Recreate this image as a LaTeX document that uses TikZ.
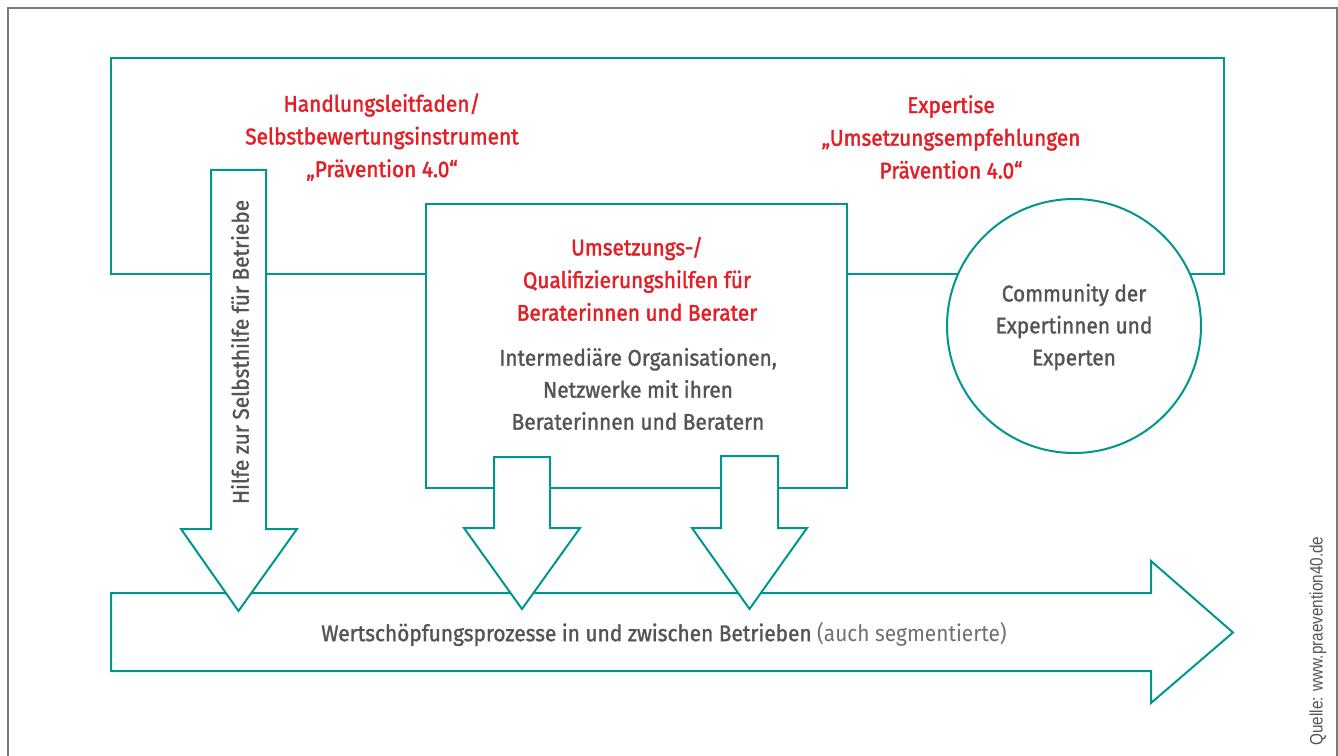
\documentclass[tikz,border=0pt]{standalone}
\usepackage{fontspec}
\setmainfont{Fira Sans}[FakeStretch=0.92]
\newfontfamily\redfont{Fira Sans}[FakeStretch=0.92,FakeBold=1.7]
\newfontfamily\grayfont{Fira Sans}[FakeStretch=0.92,FakeBold=1.3]
\newfontfamily\lightfont{Fira Sans}[FakeStretch=0.92]
\newfontfamily\quellefont{Liberation Sans}[FakeStretch=0.85]
\definecolor{petrol}{RGB}{0,150,144}
\definecolor{signalred}{RGB}{227,30,36}
\definecolor{darkgraytext}{RGB}{84,84,86}
\definecolor{lightgraytext}{RGB}{112,112,114}
\definecolor{framegray}{RGB}{122,122,122}
\begin{document}
\begin{tikzpicture}[x=0.75pt,y=-0.75pt,
  outline/.style={draw=petrol,line width=1.5pt,line join=miter},
  filled/.style={outline,fill=white},
  redlabel/.style={inner sep=0pt,align=center,text=signalred,font=\redfont\fontsize{17}{24.5}\selectfont},
  graylabel/.style={inner sep=0pt,align=center,text=darkgraytext,font=\grayfont\fontsize{17}{24}\selectfont}]
\useasboundingbox (0,0) rectangle (1338,756);

% outer frame, open at the bottom
\draw[framegray,line width=1.1pt] (8,756) -- (8,8) -- (1337,8) -- (1337,756);

% upper frame connecting the instruments
\draw[outline] (111,58) rectangle (1224,274);

% value-chain arrow along the bottom
\draw[filled] (111,593) -- (1151,593) -- (1151,561) -- (1233,632.5)
  -- (1151,703) -- (1151,671) -- (111,671) -- cycle;

% intermediaries box
\draw[filled] (426,204) rectangle (847,488);

% community circle
\draw[filled] (1074,326) circle[radius=95.25pt];

% self-help arrow
\draw[filled] (211,170) -- (266,170) -- (266,529) -- (297,529) -- (238.5,611)
  -- (181,529) -- (211,529) -- cycle;

% arrows from the intermediaries to the companies
\draw[filled] (494,457) -- (550,457) -- (550,528) -- (580,528) -- (522,609)
  -- (464,528) -- (494,528) -- cycle;
\draw[filled] (721,456) -- (778,456) -- (778,528) -- (807,528) -- (749.5,609)
  -- (692,528) -- (721,528) -- cycle;

% labels
\node[redlabel] (leitfaden) at (382,137)
  {Handlungsleitfaden/\\Selbstbewertungsinstrument\\„Prävention 4.0“};
\node[redlabel] (expertise) at (951,137)
  {Expertise\\„Umsetzungsempfehlungen\\Prävention 4.0“};
\node[redlabel] (qualihilfen) at (637,279)
  {Umsetzungs-/\\Qualifizierungshilfen für\\Beraterinnen und Berater};
\node[graylabel] (intermediaere) at (638,389)
  {Intermediäre Organisationen,\\Netzwerke mit ihren\\Beraterinnen und Beratern};
\node[graylabel] (community) at (1074,327)
  {Community der\\Expertinnen und\\Experten};
\node[graylabel,rotate=90] (selbsthilfe) at (240,352) {Hilfe zur Selbsthilfe für Betriebe};
\node[graylabel] (wertschoepfung) at (664,634)
  {Wertschöpfungsprozesse in und zwischen Betrieben {\lightfont\color{lightgraytext}(auch segmentierte)}};
\node[inner sep=0pt,rotate=90,text=darkgraytext,font=\quellefont\fontsize{13.5}{16}\selectfont] (quelle) at (1318,641)
  {Quelle: www.praevention40.de};
\end{tikzpicture}
\end{document}
